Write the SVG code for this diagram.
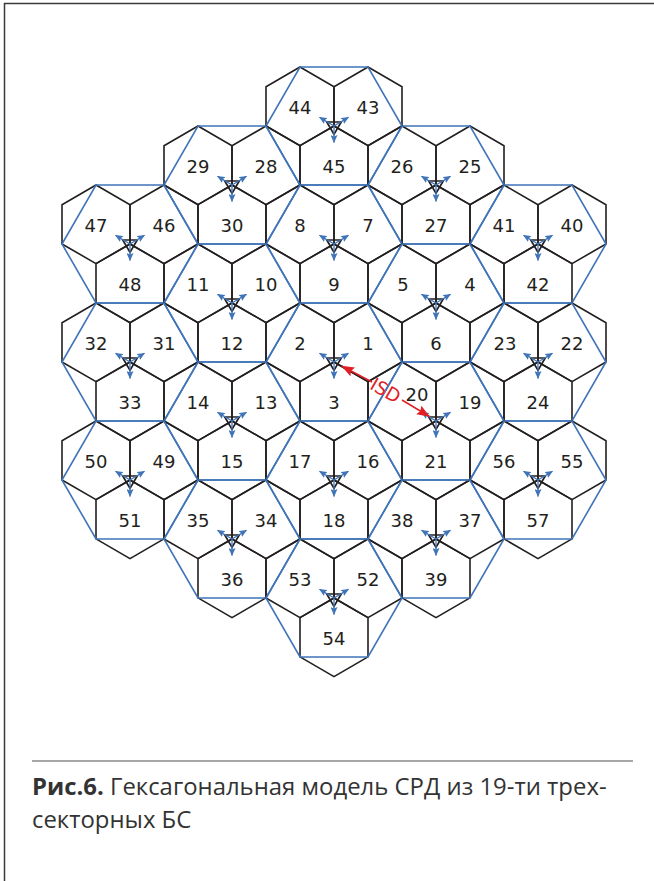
<svg xmlns="http://www.w3.org/2000/svg" xmlns:xlink="http://www.w3.org/1999/xlink" width="654" height="881" viewBox="0 0 654 881">
<style>
.hex{fill:none;stroke:#231f20;stroke-width:1.6}
.blue{fill:none;stroke:#3f74b8;stroke-width:1.6}
.ant{fill:none;stroke:#231f20;stroke-width:1.7}
.ray{fill:none;stroke:#3f74b8;stroke-width:1.3;marker-end:url(#ba)}
.lbl{font-family:"DejaVu Sans",sans-serif;font-size:18px;fill:#231f20;text-anchor:middle}
.cap{font-family:"Open Sans",sans-serif;font-size:23.9px;fill:#333}
.isd{stroke:#e01f26;stroke-width:1.5;fill:none}
</style>
<defs>
<marker id="ba" markerWidth="8" markerHeight="7" refX="7.5" refY="3.5" orient="auto" markerUnits="userSpaceOnUse"><path d="M0 0L8 3.5L0 7L1.5 3.5Z" fill="#3f74b8"/></marker>
<marker id="ra" markerWidth="13" markerHeight="10" refX="12.5" refY="5" orient="auto" markerUnits="userSpaceOnUse"><path d="M0 0L13 5L0 10L2 5Z" fill="#e01f26"/></marker>
<g id="site">
<polygon class="hex" points="0,0 -34,19.6 -34,58.9 0,78.6 34,58.9 34,19.6"/>
<polygon class="hex" points="0,0 -34,19.6 -68,0 -68,-39.3 -34,-59 0,-39.3"/>
<polygon class="hex" points="0,0 34,19.6 68,0 68,-39.3 34,-59 0,-39.3"/>
<polygon class="blue" points="-34,-59 34,-59 68,0 34,59 -34,59 -68,0"/>
<polygon class="ant" points="-7.2,-4 7.2,-4 0,8.4"/>
<path class="ray" d="M0 0L-14.5 -8.8"/>
<path class="ray" d="M0 0L14.5 -8.8"/>
<path class="ray" d="M0 0L0 16.5"/>
</g>
</defs>
<g id="frame"><path d="M4.5 881V3.5H654" fill="none" stroke="#3a3a3a" stroke-width="1.5"/></g>
<g id="site-43-45" transform="translate(334,126)"><use href="#site"/><text class="lbl" x="-34" y="-12.5">44</text><text class="lbl" x="34" y="-12.5">43</text><text class="lbl" x="0" y="46.5">45</text></g>
<g id="site-28-30" transform="translate(232,185)"><use href="#site"/><text class="lbl" x="-34" y="-12.5">29</text><text class="lbl" x="34" y="-12.5">28</text><text class="lbl" x="0" y="46.5">30</text></g>
<g id="site-25-27" transform="translate(436,185)"><use href="#site"/><text class="lbl" x="-34" y="-12.5">26</text><text class="lbl" x="34" y="-12.5">25</text><text class="lbl" x="0" y="46.5">27</text></g>
<g id="site-46-48" transform="translate(130,244)"><use href="#site"/><text class="lbl" x="-34" y="-12.5">47</text><text class="lbl" x="34" y="-12.5">46</text><text class="lbl" x="0" y="46.5">48</text></g>
<g id="site-7-9" transform="translate(334,244)"><use href="#site"/><text class="lbl" x="-34" y="-12.5">8</text><text class="lbl" x="34" y="-12.5">7</text><text class="lbl" x="0" y="46.5">9</text></g>
<g id="site-40-42" transform="translate(538,244)"><use href="#site"/><text class="lbl" x="-34" y="-12.5">41</text><text class="lbl" x="34" y="-12.5">40</text><text class="lbl" x="0" y="46.5">42</text></g>
<g id="site-10-12" transform="translate(232,303)"><use href="#site"/><text class="lbl" x="-34" y="-12.5">11</text><text class="lbl" x="34" y="-12.5">10</text><text class="lbl" x="0" y="46.5">12</text></g>
<g id="site-4-6" transform="translate(436,303)"><use href="#site"/><text class="lbl" x="-33" y="-12.5">5</text><text class="lbl" x="34" y="-12.5">4</text><text class="lbl" x="0" y="46.5">6</text></g>
<g id="site-31-33" transform="translate(130,362)"><use href="#site"/><text class="lbl" x="-34" y="-12.5">32</text><text class="lbl" x="34" y="-12.5">31</text><text class="lbl" x="0" y="46.5">33</text></g>
<g id="site-1-3" transform="translate(334,362)"><use href="#site"/><text class="lbl" x="-34" y="-12.5">2</text><text class="lbl" x="34" y="-12.5">1</text><text class="lbl" x="0" y="46.5">3</text></g>
<g id="site-22-24" transform="translate(538,362)"><use href="#site"/><text class="lbl" x="-33" y="-12.5">23</text><text class="lbl" x="34" y="-12.5">22</text><text class="lbl" x="0" y="46.5">24</text></g>
<g id="site-13-15" transform="translate(232,421)"><use href="#site"/><text class="lbl" x="-34" y="-12.5">14</text><text class="lbl" x="34" y="-12.5">13</text><text class="lbl" x="0" y="46.5">15</text></g>
<g id="site-19-21" transform="translate(436,421)"><use href="#site"/><text class="lbl" x="-19" y="-20">20</text><text class="lbl" x="34" y="-12.5">19</text><text class="lbl" x="0" y="46.5">21</text></g>
<g id="site-49-51" transform="translate(130,480)"><use href="#site"/><text class="lbl" x="-34" y="-12.5">50</text><text class="lbl" x="34" y="-12.5">49</text><text class="lbl" x="0" y="46.5">51</text></g>
<g id="site-16-18" transform="translate(334,480)"><use href="#site"/><text class="lbl" x="-34" y="-12.5">17</text><text class="lbl" x="34" y="-12.5">16</text><text class="lbl" x="0" y="46.5">18</text></g>
<g id="site-55-57" transform="translate(538,480)"><use href="#site"/><text class="lbl" x="-34" y="-12.5">56</text><text class="lbl" x="34" y="-12.5">55</text><text class="lbl" x="0" y="46.5">57</text></g>
<g id="site-34-36" transform="translate(232,539)"><use href="#site"/><text class="lbl" x="-34" y="-12.5">35</text><text class="lbl" x="34" y="-12.5">34</text><text class="lbl" x="0" y="46.5">36</text></g>
<g id="site-37-39" transform="translate(436,539)"><use href="#site"/><text class="lbl" x="-34" y="-12.5">38</text><text class="lbl" x="34" y="-12.5">37</text><text class="lbl" x="0" y="46.5">39</text></g>
<g id="site-52-54" transform="translate(334,598)"><use href="#site"/><text class="lbl" x="-34" y="-12.5">53</text><text class="lbl" x="34" y="-12.5">52</text><text class="lbl" x="0" y="46.5">54</text></g>
<g id="connectors">
<path class="isd" marker-end="url(#ra)" d="M372 382L341.7 366"/>
<path class="isd" marker-end="url(#ra)" d="M402 400L429.5 416.5"/>
</g>
<text transform="translate(385.5,390.5) rotate(30)" font-family="DejaVu Sans,sans-serif" font-size="18.5" fill="#e01f26" text-anchor="middle" y="6.5">ISD</text>
<g id="caption">
<path d="M32 761H633" stroke="#888" stroke-width="1.5"/>
<text class="cap" x="32" y="795"><tspan font-weight="700">Рис.6.</tspan> Гексагональная модель СРД из 19-ти трех-</text>
<text class="cap" x="32" y="828">секторных БС</text>
</g>
</svg>
